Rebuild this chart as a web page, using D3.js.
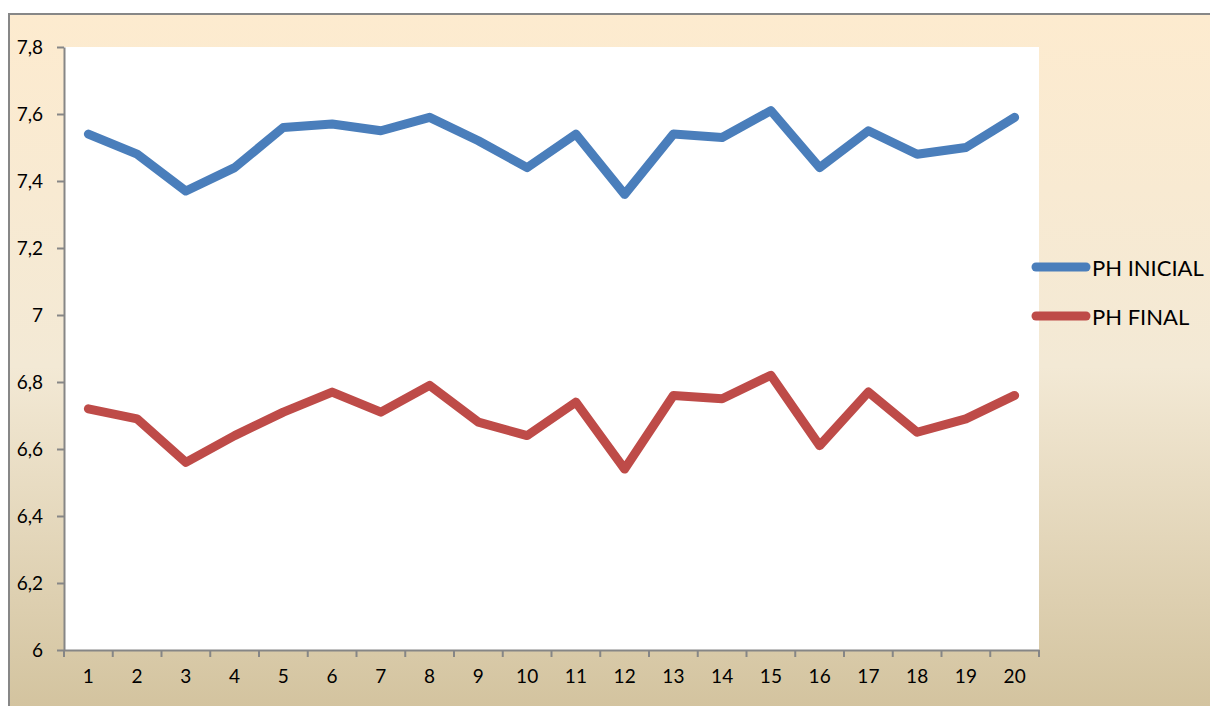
<!DOCTYPE html>
<html>
<head>
<meta charset="utf-8">
<script src="https://cdn.jsdelivr.net/npm/d3@7"></script>
<style>
  html, body { margin: 0; padding: 0; background: #ffffff; }
  svg { display: block; }
  text { font-family: "Lato", "Open Sans", sans-serif; fill: #000; }
</style>
</head>
<body>
<svg id="chart" width="1210" height="706"></svg>
<script>
// Sample numbers (1..20) and the pH measured before and after
const samples = d3.range(1, 21).map(String);
const phInicial = [7.54, 7.48, 7.37, 7.44, 7.56, 7.57, 7.55, 7.59, 7.52, 7.44,
                   7.54, 7.36, 7.54, 7.53, 7.61, 7.44, 7.55, 7.48, 7.50, 7.59];
const phFinal   = [6.72, 6.69, 6.56, 6.64, 6.71, 6.77, 6.71, 6.79, 6.68, 6.64,
                   6.74, 6.54, 6.76, 6.75, 6.82, 6.61, 6.77, 6.65, 6.69, 6.76];
const yTicks = [6, 6.2, 6.4, 6.6, 6.8, 7, 7.2, 7.4, 7.6, 7.8];
const seriesNames = ["PH INICIAL", "PH FINAL"];
const seriesColors = ["#4a7ebb", "#be4b48"];

const svg = d3.select("#chart");

// Chart frame with parchment gradient
const defs = svg.append("defs");
const grad = defs.append("linearGradient")
  .attr("id", "bg").attr("x1", 0).attr("y1", 0).attr("x2", 0).attr("y2", 1);
grad.append("stop").attr("offset", "0%").attr("stop-color", "#fdebcf");
grad.append("stop").attr("offset", "50%").attr("stop-color", "#f3e9d5");
grad.append("stop").attr("offset", "100%").attr("stop-color", "#d2c29d");

svg.append("rect")
  .attr("x", 9).attr("y", 14).attr("width", 1215).attr("height", 705)
  .attr("fill", "url(#bg)")
  .attr("stroke", "#878787").attr("stroke-width", 2);

// Plot area
const plot = { left: 64, right: 1039, top: 47, bottom: 650 };
svg.append("rect")
  .attr("x", plot.left).attr("y", plot.top)
  .attr("width", plot.right - plot.left).attr("height", plot.bottom - plot.top)
  .attr("fill", "#ffffff");

const x = d3.scaleBand().domain(samples).range([plot.left, plot.right]);
const y = d3.scaleLinear().domain([6, 7.8]).range([plot.bottom, plot.top]);

const fmt = v => d3.format("~g")(v).replace(".", ",");
const tickFont = 19;

// Y axis
const yAxis = svg.append("g")
  .attr("transform", `translate(${plot.left},0)`)
  .call(d3.axisLeft(y).tickValues(yTicks).tickFormat(fmt).tickSizeInner(7).tickSizeOuter(0).tickPadding(14));
yAxis.select(".domain").attr("stroke", "#868686").attr("stroke-width", 2);
yAxis.selectAll(".tick line").attr("stroke", "#868686").attr("stroke-width", 2);
yAxis.selectAll(".tick text").attr("font-size", tickFont).attr("fill", "#000")
  .style("font-family", "Lato, 'Open Sans', sans-serif");

// X axis: labels centred on each band, ticks on band edges
const xAxis = svg.append("g")
  .attr("transform", `translate(0,${plot.bottom})`)
  .call(d3.axisBottom(x).tickSize(0).tickPadding(20));
xAxis.select(".domain").attr("stroke", "#868686").attr("stroke-width", 2);
xAxis.selectAll(".tick text").attr("font-size", tickFont).attr("fill", "#000")
  .style("font-family", "Lato, 'Open Sans', sans-serif");
const edges = samples.map(s => x(s)).concat([x(samples[samples.length - 1]) + x.bandwidth()]);
xAxis.selectAll("line.edge").data(edges).join("line")
  .attr("class", "edge")
  .attr("x1", d => d).attr("x2", d => d)
  .attr("y1", 0).attr("y2", 7)
  .attr("stroke", "#868686").attr("stroke-width", 2);

// Lines
const cx = s => x(s) + x.bandwidth() / 2;
const line = d3.line().x((d, i) => cx(samples[i])).y(d => y(d));
[phInicial, phFinal].forEach((vals, k) => {
  svg.append("path")
    .datum(vals)
    .attr("d", line)
    .attr("fill", "none")
    .attr("stroke", seriesColors[k])
    .attr("stroke-width", 9)
    .attr("stroke-linejoin", "round")
    .attr("stroke-linecap", "round");
});

// Legend
const legend = svg.append("g");
seriesNames.forEach((name, k) => {
  const ly = 267 + k * 49;
  legend.append("line")
    .attr("x1", 1036).attr("x2", 1086).attr("y1", ly).attr("y2", ly)
    .attr("stroke", seriesColors[k]).attr("stroke-width", 9)
    .attr("stroke-linecap", "round");
  legend.append("text")
    .attr("x", 1092).attr("y", ly + 8.5)
    .attr("font-size", 22)
    .text(name);
});
</script>
</body>
</html>
